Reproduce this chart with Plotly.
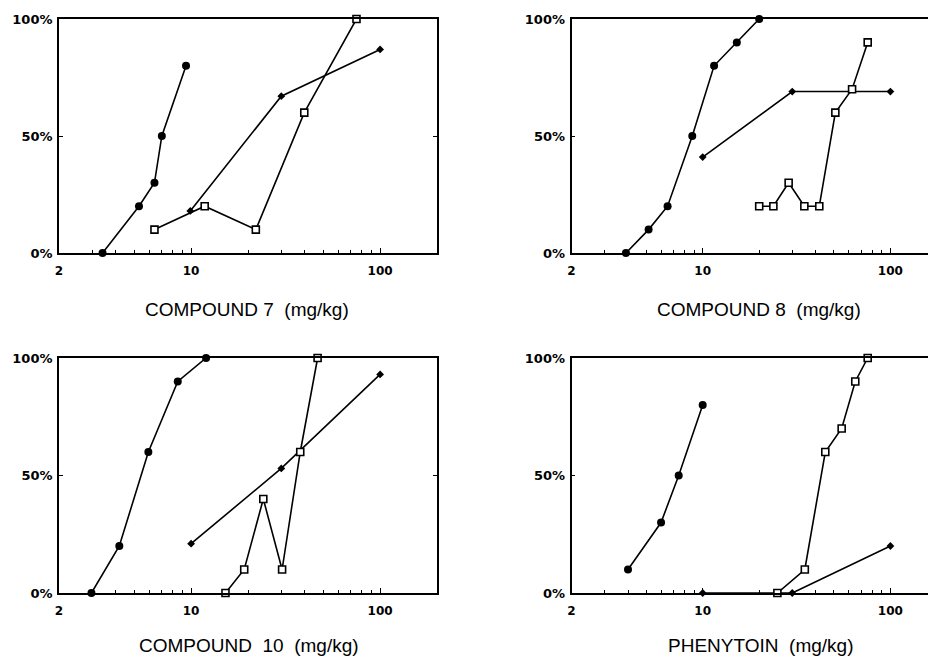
import math
import plotly.graph_objects as go

# ---------------- data (dose mg/kg, % protected) ----------------
# Compound 7
c7_circ_x = [3.4, 5.3, 6.4, 7.0, 9.4]
c7_circ_y = [0, 20, 30, 50, 80]
c7_sq_x = [6.4, 11.8, 22, 39.7, 75]
c7_sq_y = [10, 20, 10, 60, 100]
c7_dia_x = [9.9, 30, 100]
c7_dia_y = [18, 67, 87]

# Compound 8
c8_circ_x = [3.9, 5.15, 6.5, 8.8, 11.5, 15.2, 20]
c8_circ_y = [0, 10, 20, 50, 80, 90, 100]
c8_sq_x = [20, 23.8, 28.7, 34.8, 41.8, 50.9, 62.5, 75.7]
c8_sq_y = [20, 20, 30, 20, 20, 60, 70, 90]
c8_dia_x = [10, 30, 100]
c8_dia_y = [41, 69, 69]

# Compound 10
c10_circ_x = [2.97, 4.17, 5.94, 8.5, 12]
c10_circ_y = [0, 20, 60, 90, 100]
c10_sq_x = [15.2, 19.1, 24.1, 30.3, 37.8, 46.7]
c10_sq_y = [0, 10, 40, 10, 60, 100]
c10_dia_x = [10, 30, 100]
c10_dia_y = [21, 53, 93]

# Phenytoin
ph_circ_x = [4.0, 6.0, 7.45, 10]
ph_circ_y = [10, 30, 50, 80]
ph_sq_x = [25, 35, 45, 55, 65, 75.7]
ph_sq_y = [0, 10, 60, 70, 90, 100]
ph_dia_x = [10, 30, 100]
ph_dia_y = [0, 0, 20]

panel_titles = ["COMPOUND\u00a07\u00a0\u00a0(mg/kg)", "COMPOUND\u00a08\u00a0\u00a0(mg/kg)",
                "COMPOUND\u00a0\u00a010\u00a0\u00a0(mg/kg)", "PHENYTOIN\u00a0\u00a0(mg/kg)"]
x_tickvals = [2, 10, 100]
x_ticktext = ["2", "10", "100"]
x_minor = [3, 4, 5, 6, 7, 8, 9, 20, 30, 40, 50, 60, 70, 80, 90]
y_tickvals = [0, 50, 100]
y_ticktext = ["0%", "50%", "100%"]

panels = [
    (c7_circ_x, c7_circ_y, c7_sq_x, c7_sq_y, c7_dia_x, c7_dia_y),
    (c8_circ_x, c8_circ_y, c8_sq_x, c8_sq_y, c8_dia_x, c8_dia_y),
    (c10_circ_x, c10_circ_y, c10_sq_x, c10_sq_y, c10_dia_x, c10_dia_y),
    (ph_circ_x, ph_circ_y, ph_sq_x, ph_sq_y, ph_dia_x, ph_dia_y),
]

# page body has an 8px margin, so the figure is offset by 8px in the window
OFF = 8
W, H = 936 - OFF, 658 - OFF
fig = go.Figure()

LW = 1.6
for i, (cx, cy, sx, sy, dx, dy) in enumerate(panels):
    ax = "" if i == 0 else str(i + 1)
    common = dict(xaxis="x" + ax, yaxis="y" + ax, mode="lines+markers",
                  cliponaxis=False, showlegend=False,
                  line=dict(color="black", width=LW))
    fig.add_trace(go.Scatter(x=dx, y=dy, marker=dict(symbol="diamond", size=6, color="black"), **common))
    fig.add_trace(go.Scatter(x=sx, y=sy, marker=dict(symbol="square", size=7, color="white",
                                                        line=dict(color="black", width=1.6)), **common))
    fig.add_trace(go.Scatter(x=cx, y=cy, marker=dict(symbol="circle", size=8, color="black"), **common))

# pixel geometry in window coordinates
left_col = (59, 437)
right_col = (571.5, 936)
top_row = (19, 253)
bot_row = (358, 593)
right_dec = 187.7

def xd(a, b):
    return [(a - OFF) / W, min((b - OFF) / W, 1.0)]

def yd(top, bot):
    return [1 - (bot - OFF) / H, 1 - (top - OFF) / H]

tickfont_y = dict(family="DejaVu Sans", size=13, color="black", weight="bold")
tickfont_x = dict(family="DejaVu Sans", size=12, color="black", weight="bold")
layout = dict(width=W, height=H, margin=dict(l=0, r=0, t=0, b=0, pad=0, autoexpand=False),
              paper_bgcolor="white", plot_bgcolor="white",
              font=dict(family="Liberation Sans, Arial", color="black"))

geo = [(left_col, top_row, True), (right_col, top_row, False),
       (left_col, bot_row, True), (right_col, bot_row, False)]
annotations = []
title_pos = [(247, 309), (759, 309), (249, 645), (760, 645)]
for i, (col, row, is_left) in enumerate(geo):
    ax = "" if i == 0 else str(i + 1)
    lo = math.log10(2)
    hi = math.log10(200) if is_left else lo + (936 - col[0]) / right_dec
    layout["xaxis" + ax] = dict(
        type="log", range=[lo, hi], domain=xd(*col), anchor="y" + ax, automargin=False,
        tickvals=x_tickvals, ticktext=x_ticktext, ticks="inside", ticklen=5,
        tickwidth=1.3, tickcolor="black",
        minor=dict(tickvals=x_minor, ticks="inside", ticklen=3, tickcolor="black", tickwidth=1, showgrid=False),
        showline=True, linecolor="black", linewidth=1.8, mirror=True,
        showgrid=False, zeroline=False, tickfont=tickfont_x, ticklabelstandoff=6,
        fixedrange=True)
    layout["yaxis" + ax] = dict(
        range=[0, 100], domain=yd(*row), anchor="x" + ax, automargin=False,
        tickvals=y_tickvals, ticktext=y_ticktext, ticks="inside", ticklen=4,
        tickcolor="black", tickwidth=1.3,
        showline=True, linecolor="black", linewidth=1.8,
        mirror="ticks" if is_left else False,
        showgrid=False, zeroline=False, tickfont=tickfont_y, ticklabelstandoff=2,
        fixedrange=True)
    tx, ty = title_pos[i]
    annotations.append(dict(text=panel_titles[i], x=(tx - OFF) / W, y=1 - (ty - OFF) / H,
                            xref="paper", yref="paper",
                            xanchor="center", yanchor="middle", showarrow=False,
                            font=dict(family="Liberation Sans, Arial", size=19, color="black")))
layout["annotations"] = annotations
fig.update_layout(**layout)
fig.write_html("out.html")
